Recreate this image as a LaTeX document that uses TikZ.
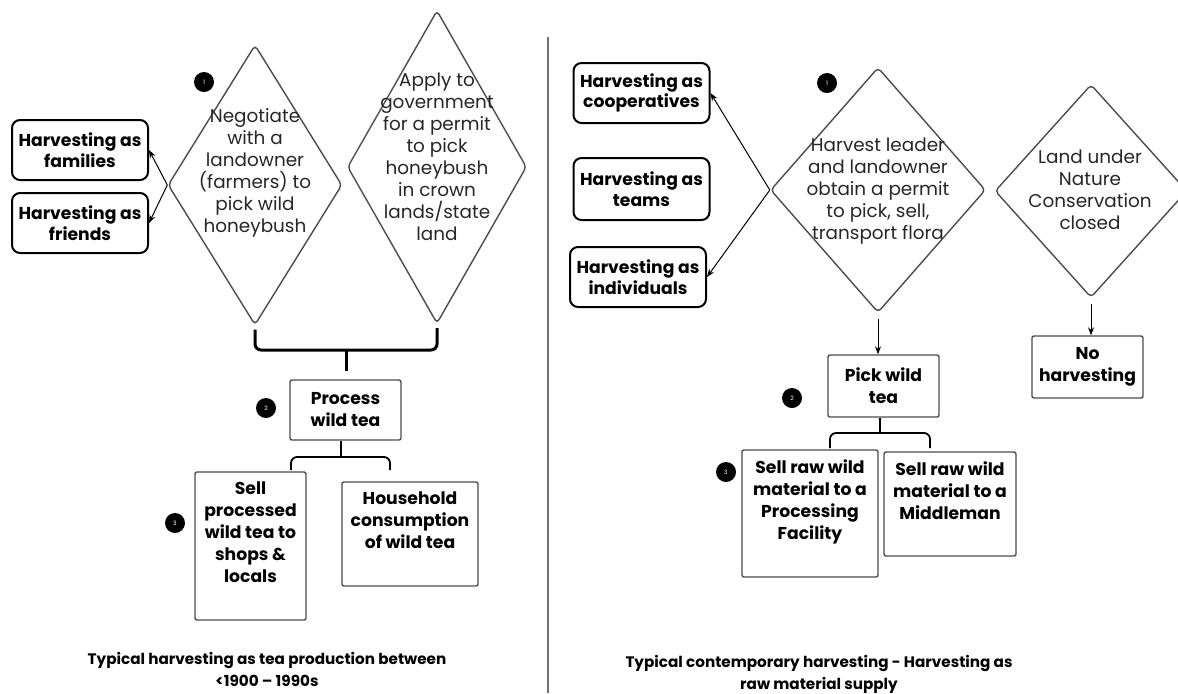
\documentclass[tikz,border=0pt]{standalone}
\usepackage{fontspec}
\setmainfont{Poppins}
\usetikzlibrary{shapes.geometric,arrows.meta}

\begin{document}
\begin{tikzpicture}[x=0.5pt,y=-0.5pt,
		choice/.style={diamond,draw=black!70,line width=0.7pt,rounded corners=2pt,inner sep=0pt},
		choicetext/.style={align=center,text=black!85,font=\fontsize{9.2}{11}\selectfont},
		group/.style={draw,line width=1pt,rounded corners=4pt,align=center,inner sep=0pt,minimum width=68pt,minimum height=30pt,font=\fontsize{8.6}{10.3}\selectfont\bfseries},
		stage/.style={draw=black!70,line width=0.7pt,rounded corners=1pt,align=center,inner sep=0pt,font=\fontsize{8.6}{11}\selectfont\bfseries},
		dot/.style={circle,fill=black,inner sep=0pt,minimum size=10pt,text=white,font=\fontsize{3}{3}\selectfont},
		link/.style={-{Stealth[length=4pt,width=3pt]},line width=0.5pt},
		brace/.style={line width=1.5pt,rounded corners=3pt},
		thinbrace/.style={line width=0.9pt,rounded corners=3pt},
		caption/.style={align=center,font=\fontsize{7.6}{11}\selectfont\bfseries}]
		\useasboundingbox (0,0) rectangle (1178,693);
		% left half
		\node[choice,minimum width=87pt,minimum height=140pt] (negot) at (255,185) {};
		\node[choicetext] (negotT) at (255,173) {Negotiate\\with a\\landowner\\(farmers) to\\pick wild\\honeybush};
		\node[choice,minimum width=89.5pt,minimum height=156.5pt] (apply) at (437,167) {};
		\node[choicetext] (applyT) at (437,157) {Apply to\\government\\for a permit\\to pick\\honeybush\\in crown\\lands/state\\land};
		\node[group] (fam) at (80,150) {Harvesting as\\families};
		\node[group] (fri) at (80,223) {Harvesting as\\friends};
		\draw[link] (negot.west) -- (fam.east);
		\draw[link] (negot.west) -- (fri.east);
		\node[stage,minimum width=55.5pt,minimum height=30pt] (proc) at (345.5,410) {Process\\wild tea};
		\coordinate (lbr) at (346,350);
		\draw[brace] ([yshift=-2pt]negot.south) |- (lbr) -| ([yshift=-2pt]apply.south);
		\draw[brace] (lbr) -- ([yshift=4pt]lbr |- proc.north);
		\node[stage,minimum width=55.5pt,minimum height=74pt,text depth=13.5pt] (sellp) at (250.5,546) {Sell\\processed\\wild tea to\\shops \&\\locals};
		\node[stage,minimum width=68pt,minimum height=52pt,text depth=13.5pt] (house) at (410,534) {Household\\consumption\\of wild tea};
		\coordinate (pbr) at (341,457);
		\coordinate (pl) at (291,470);
		\coordinate (pr) at (390,470);
		\draw[thinbrace] (pbr |- proc.south) -- (pbr);
		\draw[thinbrace] (pl) |- (pbr) -| (pr);
		\node[dot] (l1) at (204,82) {1};
		\node[dot] (l2) at (266,408) {2};
		\node[dot] (l3) at (175,523) {3};
		\node[caption] (capL) at (267,669) {Typical harvesting as tea production between\\<1900 -- 1990s};
		% divider
		\draw[black!55,line width=0.8pt] (548,37) -- (548,693);
		% right half
		\node[group] (coop) at (641.5,93) {Harvesting as\\cooperatives};
		\node[group,minimum height=31pt] (team) at (641.5,189) {Harvesting as\\teams};
		\node[group] (indiv) at (638,277) {Harvesting as\\individuals};
		\node[choice,minimum width=107.5pt,minimum height=122.5pt] (harv) at (878,190) {};
		\node[choicetext] (harvT) at (878,191) {Harvest leader\\and landowner\\obtain a permit\\to pick, sell,\\transport flora};
		\node[choice,minimum width=96pt,minimum height=106.5pt] (land) at (1091,191) {};
		\node[choicetext] (landT) at (1090,190) {Land under\\Nature\\Conservation\\closed};
		\draw[link] (harv.west) -- (coop.east);
		\draw[link] (harv.west) -- (indiv.east);
		\node[stage,minimum width=55.5pt,minimum height=31pt] (pick) at (883.5,386) {Pick wild\\tea};
		\node[stage,minimum width=55.5pt,minimum height=31pt] (noharv) at (1087.5,367) {No\\harvesting};
		\draw[link] ([yshift=-3pt]harv.south) -- (harv.south |- pick.north);
		\draw[link] ([yshift=-3pt]land.south) -- (land.south |- noharv.north);
		\node[stage,minimum width=68pt,minimum height=63.5pt,text depth=14pt] (rawproc) at (810,513.5) {Sell raw wild\\material to a\\Processing\\Facility};
		\node[stage,minimum width=66pt,minimum height=52pt,text depth=13.5pt] (rawmid) at (950,504) {Sell raw wild\\material to a\\Middleman};
		\coordinate (rbr) at (880,433);
		\coordinate (rl) at (830,448);
		\coordinate (rr) at (930,448);
		\draw[thinbrace] (rbr |- pick.south) -- (rbr);
		\draw[thinbrace] (rl) |- (rbr) -| (rr);
		\node[dot] (r1) at (827,83) {1};
		\node[dot] (r2) at (792,398) {2};
		\node[dot] (r3) at (726,472) {3};
		\node[caption] (capR) at (819,674) {Typical contemporary harvesting - Harvesting as\\raw material supply};
	\end{tikzpicture}
\end{document}
